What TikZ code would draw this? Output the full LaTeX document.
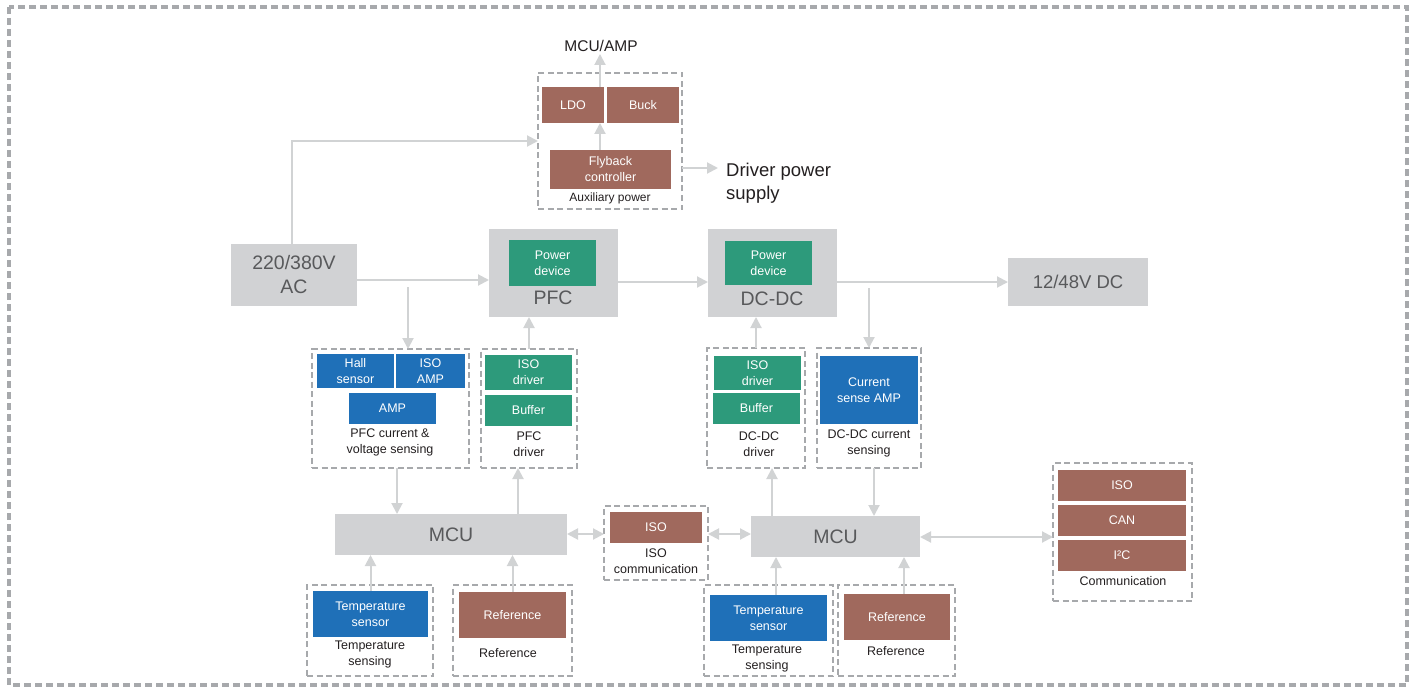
\documentclass[tikz,border=0pt]{standalone}
\usepackage{fontspec}
\setmainfont{Liberation Sans}
\usetikzlibrary{arrows.meta}
\definecolor{boxgray}{HTML}{D1D2D4}
\definecolor{txtgray}{HTML}{58595B}
\definecolor{dgreen}{HTML}{2D9A7B}
\definecolor{dblue}{HTML}{1F70B8}
\definecolor{dbrown}{HTML}{A0695D}
\definecolor{dashgray}{HTML}{A7A9AC}
\definecolor{arrgray}{HTML}{D1D3D4}
\definecolor{lblack}{HTML}{231F20}
\newcommand{\fsz}[2]{\fontsize{#1}{#2}\selectfont}
\begin{document}
\begin{tikzpicture}[x=1pt,y=-1pt,
  cbox/.style={anchor=north west, inner sep=0pt, outer sep=0pt, align=center, text=white, font=\fsz{12.5}{16}},
  gbox/.style={anchor=north west, inner sep=0pt, outer sep=0pt, align=center, fill=boxgray, text=txtgray},
  grp/.style={anchor=north west, inner sep=0pt, outer sep=0pt, draw=dashgray, line width=2pt, dash pattern=on 6pt off 3.5pt},
  lbl/.style={align=center, text=lblack, font=\fsz{12.5}{16}, inner sep=0pt},
  arr/.style={draw=arrgray, line width=2pt, -{Triangle[length=11pt,width=11pt]}},
  darr/.style={draw=arrgray, line width=2pt, {Triangle[length=11pt,width=11pt]}-{Triangle[length=11pt,width=11pt]}}
]
\useasboundingbox (0,0) rectangle (1415,687);
\draw[dashgray, line width=4.5pt, dash pattern=on 7pt off 4pt] (9,7) rectangle (1407,685);

% auxiliary power
\node[grp, minimum width=144, minimum height=136] (aux) at (538,73) {};
\node[cbox, fill=dbrown, minimum width=62, minimum height=36] (ldo) at (542,87) {LDO};
\node[cbox, fill=dbrown, minimum width=72, minimum height=36] (buck) at (607,87) {Buck};
\node[cbox, fill=dbrown, minimum width=121, minimum height=39] (fly) at (550,150) {Flyback\\controller};
\node[lbl, font=\fsz{12}{15}] (auxlbl) at (610,198) {Auxiliary power};
\node[lbl, font=\fsz{15.5}{18}] (mcuamp) at (601,46) {MCU/AMP};
\node[lbl, font=\fsz{18.5}{23}, align=left, anchor=west] (drvps) at (726,183) {Driver power\\supply};
\coordinate (ax) at (600,0);
\coordinate (mcuampin) at (600,54);
\coordinate (drvin) at (718,168);
\draw[arr] (ldo.north -| ax) -- (mcuampin);
\draw[arr] (fly.north -| ax) -- (ldo.south -| ax);
\draw[arr] (aux.east |- drvin) -- (drvin);

% main power path
\node[gbox, minimum width=126, minimum height=62, font=\fsz{19.5}{24}] (ac) at (231,244) {220/380V\\AC};
\node[gbox, minimum width=129, minimum height=88] (pfc) at (489,229) {};
\node[cbox, fill=dgreen, minimum width=87, minimum height=46] (pd1) at (509,240) {Power\\device};
\node[text=txtgray, font=\fsz{19.5}{24}, inner sep=0pt] (pfct) at (553,298) {PFC};
\node[gbox, minimum width=129, minimum height=88] (dcdc) at (708,229) {};
\node[cbox, fill=dgreen, minimum width=87, minimum height=44] (pd2) at (725,241) {Power\\device};
\node[text=txtgray, font=\fsz{19.5}{24}, inner sep=0pt] (dcdct) at (772,299) {DC-DC};
\node[gbox, minimum width=140, minimum height=48, font=\fsz{18.5}{24}] (dc12) at (1008,258) {12/48V DC};

\coordinate (acup) at (292,0);
\draw[arr] (ac.north -| acup) |- (aux.west);
\coordinate (m1) at (0,280);
\draw[arr] (ac.east |- m1) -- (pfc.west |- m1);
\coordinate (m2) at (0,282);
\draw[arr] (pfc.east |- m2) -- (dcdc.west |- m2);
\draw[arr] (dcdc.east |- m2) -- (dc12.west |- m2);
\coordinate (j1) at (408,287);
\coordinate (j3) at (869,288);

% PFC sensing and driver
\node[grp, minimum width=157, minimum height=119] (sens1) at (312,349) {};
\node[cbox, fill=dblue, minimum width=77, minimum height=34] (hall) at (317,354) {Hall\\sensor};
\node[cbox, fill=dblue, minimum width=69, minimum height=34] (isoamp) at (396,354) {ISO\\AMP};
\node[cbox, fill=dblue, minimum width=87, minimum height=31] (amp) at (349,393) {AMP};
\node[lbl] (sens1l) at (390,442) {PFC current \&\\voltage sensing};
\node[grp, minimum width=96, minimum height=119] (drv1) at (481,349) {};
\node[cbox, fill=dgreen, minimum width=87, minimum height=35] (isod1) at (485,355) {ISO\\driver};
\node[cbox, fill=dgreen, minimum width=87, minimum height=31] (buf1) at (485,395) {Buffer};
\node[lbl] (drv1l) at (529,444) {PFC\\driver};
\draw[arr] (j1) -- (sens1.north -| j1);
\draw[arr] (drv1.north) -- (pfc.south -| drv1.north);

% DC-DC driver and sensing
\node[grp, minimum width=98, minimum height=120] (drv2) at (707,348) {};
\node[cbox, fill=dgreen, minimum width=87, minimum height=34] (isod2) at (714,356) {ISO\\driver};
\node[cbox, fill=dgreen, minimum width=87, minimum height=31] (buf2) at (713,393) {Buffer};
\node[lbl] (drv2l) at (759,444) {DC-DC\\driver};
\node[grp, minimum width=104, minimum height=120] (sens2) at (817,348) {};
\node[cbox, fill=dblue, minimum width=98, minimum height=68] (csa) at (820,356) {Current\\sense AMP};
\node[lbl] (sens2l) at (869,443) {DC-DC current\\sensing};
\draw[arr] (drv2.north) -- (dcdc.south -| drv2.north);
\draw[arr] (j3) -- (sens2.north -| j3);

% MCUs
\node[gbox, minimum width=232, minimum height=41, font=\fsz{19.5}{24}] (mcu1) at (335,514) {MCU};
\node[gbox, minimum width=169, minimum height=41, font=\fsz{19.5}{24}] (mcu2) at (751,516) {MCU};
\coordinate (xa) at (397,0);
\coordinate (xb) at (518,0);
\coordinate (xc) at (772,0);
\coordinate (xd) at (874,0);
\draw[arr] (sens1.south -| xa) -- (mcu1.north -| xa);
\draw[arr] (mcu1.north -| xb) -- (drv1.south -| xb);
\draw[arr] (mcu2.north -| xc) -- (drv2.south -| xc);
\draw[arr] (sens2.south -| xd) -- (mcu2.north -| xd);

% ISO communication
\node[grp, minimum width=104, minimum height=74] (isoc) at (604,506) {};
\node[cbox, fill=dbrown, minimum width=92, minimum height=31] (isob) at (610,512) {ISO};
\node[lbl] (isocl) at (656,561) {ISO\\communication};
\coordinate (ya) at (0,534);
\draw[darr] (mcu1.east |- ya) -- (isoc.west |- ya);
\draw[darr] (isoc.east |- ya) -- (mcu2.west |- ya);

% Communication
\node[grp, minimum width=139, minimum height=138] (comm) at (1053,463) {};
\node[cbox, fill=dbrown, minimum width=128, minimum height=31] (iso3) at (1058,470) {ISO};
\node[cbox, fill=dbrown, minimum width=128, minimum height=31] (can) at (1058,505) {CAN};
\node[cbox, fill=dbrown, minimum width=128, minimum height=31] (i2c) at (1058,540) {I²C};
\node[lbl] (comml) at (1123,581) {Communication};
\coordinate (yb) at (0,537);
\draw[darr] (mcu2.east |- yb) -- (comm.west |- yb);

% temperature & reference 1
\node[grp, minimum width=126, minimum height=91] (temp1) at (307,585) {};
\node[cbox, fill=dblue, minimum width=115, minimum height=46] (ts1) at (313,591) {Temperature\\sensor};
\node[lbl] (temp1l) at (370,654) {Temperature\\sensing};
\node[grp, minimum width=119, minimum height=91] (ref1) at (453,585) {};
\node[cbox, fill=dbrown, minimum width=107, minimum height=46] (rb1) at (459,592) {Reference};
\node[lbl] (ref1l) at (508,653) {Reference};
\draw[arr] (ts1.north) -- (mcu1.south -| ts1.north);
\draw[arr] (rb1.north) -- (mcu1.south -| rb1.north);

% temperature & reference 2
\node[grp, minimum width=129, minimum height=91] (temp2) at (704,585) {};
\node[cbox, fill=dblue, minimum width=117, minimum height=46] (ts2) at (710,595) {Temperature\\sensor};
\node[lbl] (temp2l) at (767,658) {Temperature\\sensing};
\node[grp, minimum width=117, minimum height=91] (ref2) at (838,585) {};
\node[cbox, fill=dbrown, minimum width=106, minimum height=46] (rb2) at (844,594) {Reference};
\node[lbl] (ref2l) at (896,651) {Reference};
\coordinate (xe) at (776,0);
\coordinate (xf) at (904,0);
\draw[arr] (ts2.north -| xe) -- (mcu2.south -| xe);
\draw[arr] (rb2.north -| xf) -- (mcu2.south -| xf);
\end{tikzpicture}
\end{document}
